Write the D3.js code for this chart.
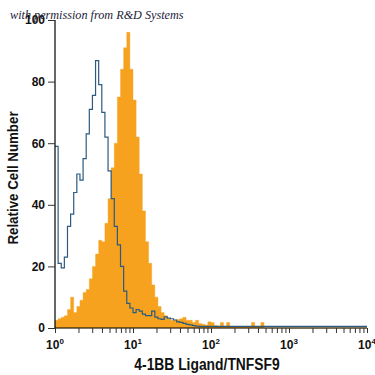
<!DOCTYPE html>
<html><head><meta charset="utf-8">
<script src="https://cdn.jsdelivr.net/npm/d3@7"></script>
<style>
html,body{margin:0;padding:0;background:#fff;}
svg{display:block;}
</style></head>
<body>
<svg id="chart" width="375" height="375"></svg>
<script>
// ---- data ----
const binLogWidth = 0.04; // bins in log10 units, from 10^0 to 10^4
const blueCounts = [
  59,21,19.5,23,33,37,44,50,48,55,
  63,71,75.5,86.8,79,70,62,51,42,33,
  27,20,12,8,6.5,5,6,5.5,4.5,4,
  4,5.5,3.5,3,2.8,3.6,3.2,3,2.6,2,
  1.8,1.5,1.2,1,0.8,0.6,0.5,0.5,0.5,0.5,
  0.5,0.5,0.5,0.5,0.5,0.5,0.5,0.5,0.5,0.5,
  0.5,0.5,0.5,0.5,0.5,0.5,0.5,0.5,0.5,0.5,
  0.5,0.5,0.5,0.5,0.5,0.5,0.5,0.5,0.5,0.5,
  0.5,0.5,0.5,0.5,0.5,0.5,0.5,0.5,0.5,0.5,
  0.5,0.5,0.5,0.5,0.5,0.5,0.5,0.5,0.5,0.5
];
const orangeCounts = [
  2.5,3,3.5,4,6,10,5,7,9,11.5,
  12.5,16,20,24,28.5,28,34,42,52,60,
  75,84,91,96,84,74,62,50,38,28,
  21,14,10,7,5,4,3,2.5,2.5,2.8,
  3,3.5,2.5,2.5,1.8,2.5,1.5,1.2,1,2,
  1.8,0.8,0.6,1.8,0.6,1.8,0.5,0.5,0.4,0.4,
  0.4,0.4,0.4,1.8,0.5,0.5,1.8,0,0,0,
  0,0,0,0,0,0,0,0,0,0,
  0,0,0,0,0,0,0,0,0,0,
  0,0,0,0,0,0,0,0,0,0
];
const yTicks = [0,20,40,60,80,100];
const xTickExps = [0,1,2,3,4];
const xLabel = "4-1BB Ligand/TNFSF9";
const yLabel = "Relative Cell Number";
const watermark = "with permission from R&D Systems";

// ---- chart ----
const svg = d3.select("#chart");
const x = d3.scaleLog().domain([1, 1e4]).range([55, 367]);
const y = d3.scaleLinear().domain([0, 100]).range([328, 20]);
const font = "'Liberation Sans',Arial,sans-serif";

function stepPoints(counts) {
  const pts = counts.map((v, i) => [Math.pow(10, i * binLogWidth), v]);
  pts.push([Math.pow(10, counts.length * binLogWidth), counts[counts.length - 1]]);
  return pts;
}

// orange filled histogram
const area = d3.area()
  .x(d => x(d[0])).y0(y(0)).y1(d => y(d[1]))
  .curve(d3.curveStepAfter);
svg.append("path")
  .datum(stepPoints(orangeCounts))
  .attr("d", area)
  .attr("fill", "#f6a21e")
  .attr("stroke", "#f6a21e")
  .attr("stroke-width", 0.4);

// blue outline histogram
const line = d3.line()
  .x(d => x(d[0])).y(d => y(d[1]))
  .curve(d3.curveStepAfter);
svg.append("path")
  .datum(stepPoints(blueCounts))
  .attr("d", line)
  .attr("fill", "none")
  .attr("stroke", "#2b5b80")
  .attr("stroke-width", 1.2);

// y axis
const yAxis = d3.axisLeft(y).tickValues(yTicks).tickSize(7).tickPadding(3);
const gy = svg.append("g").attr("transform", "translate(55,0)").call(yAxis);
gy.select(".domain").attr("stroke", "#000").attr("stroke-width", 1.2).attr("d", "M0,20V328");
gy.selectAll(".tick line").attr("stroke", "#333");
gy.selectAll(".tick text")
  .attr("font-family", font).attr("font-weight", "bold")
  .attr("font-size", 12).attr("fill", "#111");

// x axis
const minorTicks = [];
for (let e = 0; e < 4; e++) for (let m = 1; m < 10; m++) minorTicks.push(m * Math.pow(10, e));
minorTicks.push(1e4);
const xAxis = d3.axisBottom(x).tickValues(minorTicks).tickSize(5).tickFormat("");
const gx = svg.append("g").attr("transform", "translate(0,328)").call(xAxis);
gx.select(".domain").attr("stroke", "#000").attr("stroke-width", 1.2).attr("d", "M55,0H367");
gx.selectAll(".tick line").attr("stroke", "#333");

const xl = svg.append("g");
xTickExps.forEach(e => {
  const t = xl.append("text")
    .attr("x", x(Math.pow(10, e))).attr("y", 349)
    .attr("text-anchor", "middle")
    .attr("font-family", font).attr("font-weight", "bold")
    .attr("font-size", 12).attr("fill", "#111");
  t.append("tspan").text("10");
  t.append("tspan").attr("dy", -5).attr("font-size", 8).text(String(e));
});

// axis titles (condensed via horizontal scale)
svg.append("text")
  .attr("transform", "translate(207,370) scale(0.84,1)")
  .attr("text-anchor", "middle")
  .attr("font-family", font).attr("font-weight", "bold")
  .attr("font-size", 16.5).attr("fill", "#111")
  .text(xLabel);
svg.append("text")
  .attr("transform", "translate(18,178) rotate(-90) scale(0.86,1)")
  .attr("text-anchor", "middle")
  .attr("font-family", font).attr("font-weight", "bold")
  .attr("font-size", 15.5).attr("fill", "#111")
  .text(yLabel);

// watermark
svg.append("text")
  .attr("x", 10).attr("y", 19)
  .attr("font-family", "'Liberation Serif','DejaVu Serif',serif")
  .attr("font-style", "italic")
  .attr("font-size", 12.2).attr("fill", "#1c1c3a")
  .text(watermark);
</script>
</body></html>
